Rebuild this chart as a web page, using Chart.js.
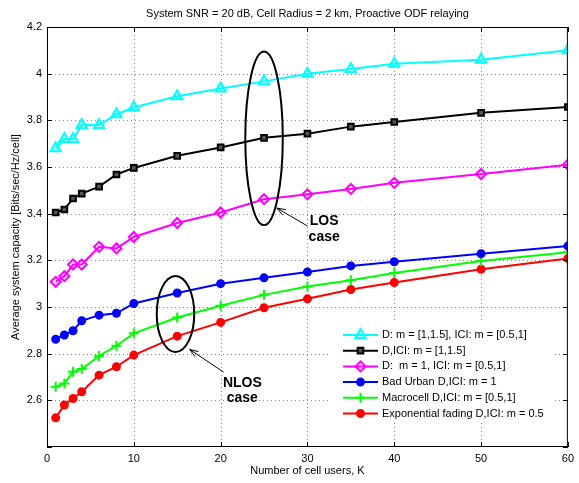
<!DOCTYPE html>
<html>
<head>
<meta charset="utf-8">
<script src="https://cdn.jsdelivr.net/npm/chart.js@4.4.1/dist/chart.umd.min.js"></script>
<style>
html, body { margin: 0; padding: 0; background: #fff; }
</style>
</head>
<body>
<canvas id="myChart" width="579" height="483"></canvas>
<script>
// number of cell users K
const users = [1, 2, 3, 4, 6, 8, 10, 15, 20, 25, 30, 35, 40, 50, 60]

// capacity curves
const losMixed = [3.68, 3.72, 3.72, 3.78, 3.78, 3.826, 3.855, 3.903, 3.936, 3.967, 4.0, 4.02, 4.043, 4.06, 4.10]
const losBoth = [3.405, 3.418, 3.465, 3.486, 3.516, 3.568, 3.596, 3.648, 3.684, 3.725, 3.743, 3.773, 3.793, 3.832, 3.857]
const losOne = [3.108, 3.132, 3.182, 3.182, 3.258, 3.251, 3.30, 3.36, 3.405, 3.462, 3.483, 3.506, 3.532, 3.57, 3.61]
const badUrban = [2.862, 2.88, 2.898, 2.941, 2.965, 2.973, 3.015, 3.06, 3.10, 3.125, 3.15, 3.176, 3.194, 3.228, 3.261]
const macrocell = [2.658, 2.672, 2.722, 2.734, 2.79, 2.834, 2.887, 2.955, 3.005, 3.052, 3.088, 3.115, 3.146, 3.197, 3.235]
const expFading = [2.525, 2.58, 2.608, 2.637, 2.708, 2.744, 2.794, 2.875, 2.934, 2.997, 3.035, 3.075, 3.105, 3.162, 3.208]

const labels = [
    "D: m = [1,1.5], ICI: m = [0.5,1]",
    "D,ICI: m = [1,1.5]",
    "D:  m = 1, ICI: m = [0.5,1]",
    "Bad Urban D,ICI: m = 1",
    "Macrocell D,ICI: m = [0.5,1]",
    "Exponential fading D,ICI: m = 0.5"
]

const xTicks = [0, 10, 20, 30, 40, 50, 60]
const yTicks = [2.4, 2.6, 2.8, 3.0, 3.2, 3.4, 3.6, 3.8, 4.0, 4.2]

const title = "System SNR = 20 dB, Cell Radius = 2 km, Proactive ODF relaying"
const font = "'Liberation Sans', Arial, Helvetica, sans-serif"

function series(values, label, color, style, radius, fill) {
    return {
        label: label,
        data: users.map((u, i) => ({ x: u, y: values[i] })),
        borderColor: color,
        backgroundColor: color,
        borderWidth: 2,
        pointStyle: style,
        pointRadius: radius,
        pointHoverRadius: radius,
        pointBorderColor: color,
        pointBackgroundColor: fill,
        pointBorderWidth: 2,
        tension: 0,
        fill: false
    }
}

const datasets = [
    series(losMixed, labels[0], "#00ffff", "triangle", 6, "rgba(0,255,255,0.25)"),
    series(losBoth, labels[1], "#000000", "rect", 4, "#555555"),
    series(losOne, labels[2], "#ff00ff", "rectRot", 5, "rgba(255,255,255,0)"),
    series(badUrban, labels[3], "#0000ff", "circle", 3.5, "#0000ff"),
    series(macrocell, labels[4], "#00ff00", "cross", 5, "#00ff00"),
    series(expFading, labels[5], "#ff0000", "circle", 3.5, "#ff0000")
]

// ellipses, arrows and notes in data units
const ellipses = [
    { x: 25, y: 3.723, rx: 2.16, ry: 0.372 },
    { x: 14.8, y: 2.97, rx: 2.16, ry: 0.163 }
]
const arrows = [
    { from: [30.0, 3.347], to: [26.48, 3.424] },
    { from: [20.34, 2.721], to: [16.44, 2.818] }
]
const notes = [
    { text: "LOS", x: 31.93, y: 3.351 },
    { text: "case", x: 31.93, y: 3.282 },
    { text: "NLOS", x: 22.5, y: 2.657 },
    { text: "case", x: 22.5, y: 2.593 }
]

const framePlugin = {
    id: "frame",
    beforeDraw(chart) {
        const ctx = chart.ctx
        ctx.save()
        ctx.fillStyle = "#fff"
        ctx.fillRect(0, 0, chart.width, chart.height)
        ctx.restore()
    },
    beforeDatasetsDraw(chart) {
        // dotted grid, matlab style
        const ctx = chart.ctx
        const xs = chart.scales.x
        const ys = chart.scales.y
        const a = chart.chartArea
        ctx.save()
        ctx.strokeStyle = "#8c8c8c"
        ctx.lineWidth = 1
        ctx.setLineDash([1, 3])
        ctx.beginPath()
        xTicks.slice(1, -1).forEach(v => {
            const px = Math.round(xs.getPixelForValue(v)) + 0.5
            ctx.moveTo(px, a.top)
            ctx.lineTo(px, a.bottom)
        })
        yTicks.slice(1, -1).forEach(v => {
            const py = Math.round(ys.getPixelForValue(v)) + 0.5
            ctx.moveTo(a.left, py)
            ctx.lineTo(a.right, py)
        })
        ctx.stroke()
        ctx.restore()
    },
    afterDatasetsDraw(chart) {
        const ctx = chart.ctx
        const xs = chart.scales.x
        const ys = chart.scales.y
        const a = chart.chartArea

        ctx.save()
        ctx.strokeStyle = "#000"
        ctx.fillStyle = "#000"

        // ellipses
        ctx.lineWidth = 2
        ellipses.forEach(e => {
            const cx = xs.getPixelForValue(e.x)
            const cy = ys.getPixelForValue(e.y)
            const rx = Math.abs(xs.getPixelForValue(e.x + e.rx) - cx)
            const ry = Math.abs(ys.getPixelForValue(e.y + e.ry) - cy)
            ctx.beginPath()
            ctx.ellipse(cx, cy, rx, ry, 0, 0, Math.PI * 2)
            ctx.stroke()
        })

        // arrows
        ctx.lineWidth = 1
        arrows.forEach(ar => {
            const x1 = xs.getPixelForValue(ar.from[0]), y1 = ys.getPixelForValue(ar.from[1])
            const x2 = xs.getPixelForValue(ar.to[0]), y2 = ys.getPixelForValue(ar.to[1])
            const ang = Math.atan2(y2 - y1, x2 - x1)
            ctx.beginPath()
            ctx.moveTo(x1, y1)
            ctx.lineTo(x2, y2)
            ctx.stroke()
            ctx.beginPath()
            ctx.moveTo(x2, y2)
            ctx.lineTo(x2 - 9 * Math.cos(ang - 0.35), y2 - 9 * Math.sin(ang - 0.35))
            ctx.moveTo(x2, y2)
            ctx.lineTo(x2 - 9 * Math.cos(ang + 0.35), y2 - 9 * Math.sin(ang + 0.35))
            ctx.stroke()
        })

        ctx.font = "bold 14px " + font
        ctx.textAlign = "center"
        ctx.textBaseline = "alphabetic"
        notes.forEach(n => {
            ctx.fillText(n.text, xs.getPixelForValue(n.x), ys.getPixelForValue(n.y))
        })

        // legend
        const lx = 330, ly = 323, lw = 223, lh = 99
        ctx.fillStyle = "#fff"
        ctx.fillRect(lx, ly, lw, lh)
        ctx.font = "11px " + font
        ctx.textAlign = "left"
        ctx.textBaseline = "middle"
        chart.data.datasets.forEach((ds, i) => {
            const y = 335 + i * 15.7
            ctx.strokeStyle = ds.borderColor
            ctx.lineWidth = 2
            ctx.beginPath()
            ctx.moveTo(343, y)
            ctx.lineTo(378, y)
            ctx.stroke()
            ctx.fillStyle = ds.pointBackgroundColor
            ctx.strokeStyle = ds.pointBorderColor
            Chart.helpers.drawPoint(ctx, {
                pointStyle: ds.pointStyle,
                radius: ds.pointRadius,
                rotation: 0,
                borderWidth: 2
            }, 360.5, y)
            ctx.fillStyle = "#000"
            ctx.fillText(ds.label, 382, y)
        })

        // box and inner ticks
        ctx.strokeStyle = "#000"
        ctx.lineWidth = 1
        ctx.setLineDash([])
        ctx.strokeRect(a.left + 0.5, a.top + 0.5, a.right - a.left - 1, a.bottom - a.top - 1)
        ctx.beginPath()
        xTicks.forEach(v => {
            const px = Math.round(xs.getPixelForValue(v)) + 0.5
            ctx.moveTo(px, a.bottom); ctx.lineTo(px, a.bottom - 5)
            ctx.moveTo(px, a.top); ctx.lineTo(px, a.top + 5)
        })
        yTicks.forEach(v => {
            const py = Math.round(ys.getPixelForValue(v)) + 0.5
            ctx.moveTo(a.left, py); ctx.lineTo(a.left + 5, py)
            ctx.moveTo(a.right, py); ctx.lineTo(a.right - 5, py)
        })
        ctx.stroke()

        ctx.font = "11px " + font
        ctx.fillStyle = "#000"
        ctx.textAlign = "center"
        ctx.textBaseline = "middle"
        ctx.fillText(title, (a.left + a.right) / 2, 14)
        ctx.restore()
    }
}

const ctx = document.getElementById("myChart").getContext("2d")

new Chart(ctx, {
    type: "line",
    data: { datasets: datasets },
    options: {
        responsive: false,
        animation: false,
        events: [],
        layout: { padding: { top: 27, right: 4, left: 0, bottom: 0 } },
        plugins: {
            legend: { display: false },
            tooltip: { enabled: false },
            title: { display: false }
        },
        scales: {
            x: {
                type: "linear",
                min: 0,
                max: 60,
                afterBuildTicks: s => { s.ticks = xTicks.map(v => ({ value: v })) },
                afterFit: s => { s.height = 36 },
                ticks: { color: "#000", font: { family: font, size: 11 }, padding: 5, maxRotation: 0 },
                grid: { display: false, drawTicks: false },
                border: { display: false },
                title: {
                    display: true,
                    text: "Number of cell users, K",
                    color: "#000",
                    font: { family: font, size: 11 },
                    padding: { top: 0, bottom: 5 }
                }
            },
            y: {
                min: 2.4,
                max: 4.2,
                afterBuildTicks: s => { s.ticks = yTicks.map(v => ({ value: v })) },
                afterFit: s => { s.width = 47 },
                ticks: {
                    color: "#000",
                    font: { family: font, size: 11 },
                    padding: 5,
                    callback: v => Math.abs(v - 2.4) < 1e-6 ? "" : String(Number(v.toFixed(1)))
                },
                grid: { display: false, drawTicks: false },
                border: { display: false },
                title: {
                    display: true,
                    text: "Average system capacity [Bits/sec/Hz/cell]",
                    color: "#000",
                    font: { family: font, size: 11 },
                    padding: { top: 9, bottom: 0 }
                }
            }
        }
    },
    plugins: [framePlugin]
})
</script>
</body>
</html>
